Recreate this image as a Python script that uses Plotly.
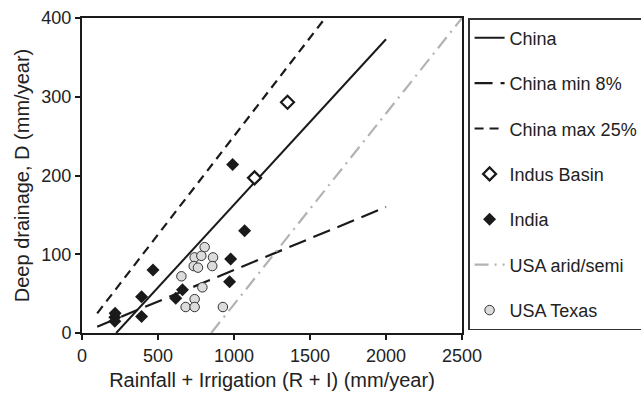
import plotly.graph_objects as go

# ---- data ----
china_x = [225, 2000]
china_y = [0, 373]
china_min_x = [100, 2000]
china_min_y = [8, 160]
china_max_x = [100, 1600]
china_max_y = [25, 400]
usa_arid_x = [850, 2500]
usa_arid_y = [0, 400]
indus_x = [1135, 1352]
indus_y = [197, 293]
india_x = [216, 216, 218, 392, 392, 467, 617, 661, 971, 978, 991, 1070]
india_y = [15, 20, 25, 21, 46, 80, 44, 55, 65, 94, 214, 130]
texas_x = [807, 741, 785, 862, 735, 763, 857, 654, 792, 741, 682, 741, 927]
texas_y = [109, 96, 98, 96, 85, 83, 85, 72, 58, 43, 33, 33, 33]
x_ticks = [0, 500, 1000, 1500, 2000, 2500]
y_ticks = [0, 100, 200, 300, 400]

DARK = "#1a1a1a"
fig = go.Figure()
fig.add_trace(go.Scatter(x=china_x, y=china_y, mode="lines", name="China",
                         legendgroup="g1", line=dict(color=DARK, width=2)))
fig.add_trace(go.Scatter(x=china_min_x, y=china_min_y, mode="lines", name="China min 8%",
                         legendgroup="g2", line=dict(color=DARK, width=2.2, dash="18px,8px")))
fig.add_trace(go.Scatter(x=china_max_x, y=china_max_y, mode="lines", name="China max 25%",
                         legendgroup="g3", line=dict(color=DARK, width=2.2, dash="9px,6px")))
fig.add_trace(go.Scatter(x=indus_x, y=indus_y, mode="markers", name="Indus Basin",
                         legendgroup="g4",
                         marker=dict(symbol="diamond", size=10, color="white",
                                     line=dict(color=DARK, width=2.2))))
fig.add_trace(go.Scatter(x=india_x, y=india_y, mode="markers", name="India",
                         legendgroup="g5",
                         marker=dict(symbol="diamond", size=10, color=DARK,
                                     line=dict(color=DARK, width=0))))
fig.add_trace(go.Scatter(x=usa_arid_x, y=usa_arid_y, mode="lines", name="USA arid/semi",
                         legendgroup="g6",
                         line=dict(color="#b3b3b3", width=2.2, dash="14px,6px,2px,6px")))
fig.add_trace(go.Scatter(x=texas_x, y=texas_y, mode="markers", name="USA Texas",
                         legendgroup="g7",
                         marker=dict(symbol="circle", size=9.5, color="#dcdcdc",
                                     line=dict(color="#333333", width=1))))

axis_common = dict(showline=True, mirror=True, linecolor=DARK, linewidth=2,
                   ticks="outside", ticklen=5, tickwidth=1.5, tickcolor=DARK,
                   showgrid=False, zeroline=False,
                   tickfont=dict(family="Liberation Sans, Arial", size=18, color="#222222"))

fig.update_layout(
    width=641, height=393,
    margin=dict(l=82, r=179, t=18, b=60, autoexpand=False),
    paper_bgcolor="white", plot_bgcolor="white",
    font=dict(family="Liberation Sans, Arial", color="#222222"),
    xaxis=dict(range=[0, 2500], tickvals=x_ticks,
               title=dict(text="Rainfall + Irrigation (R + I) (mm/year)",
                          font=dict(size=20), standoff=8),
               **axis_common),
    yaxis=dict(range=[0, 400], tickvals=y_ticks,
               title=dict(text="Deep drainage, D (mm/year)",
                          font=dict(size=20), standoff=6),
               **axis_common),
    legend=dict(x=1.016, xanchor="left", y=1.0, yanchor="top",
                bordercolor="#333333", borderwidth=1.5, bgcolor="white",
                font=dict(size=18, family="Liberation Sans, Arial", color="#222222"),
                tracegroupgap=19, traceorder="grouped"),
)

fig.write_html("out.html")
